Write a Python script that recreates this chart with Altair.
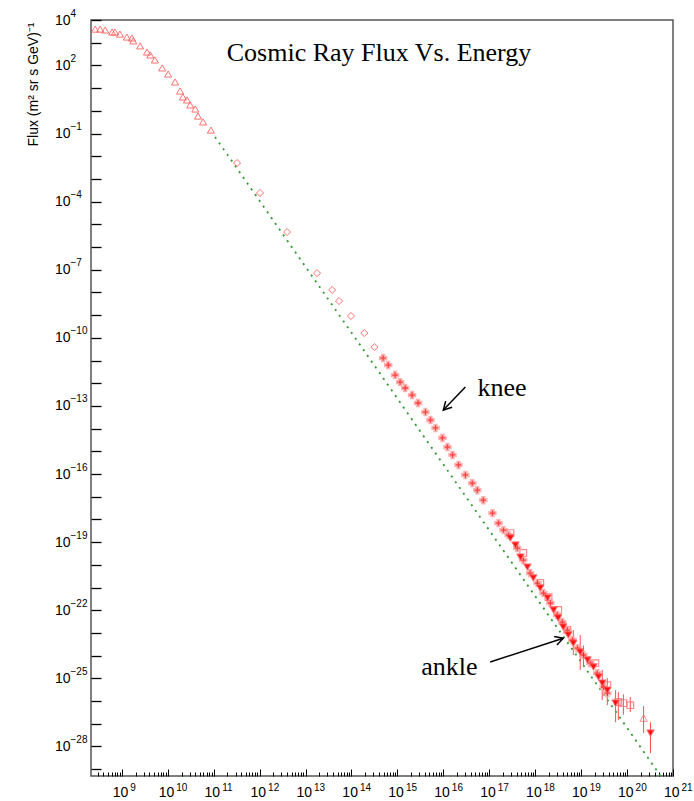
import altair as alt
import pandas as pd

# ---- values (log10 of energy in GeV, log10 of flux) ----
tri_logE = [8.42, 8.53, 8.64, 8.79, 8.85, 8.96, 9.11, 9.22, 9.25, 9.40, 9.55, 9.62,
            9.72, 9.88, 10.01, 10.16, 10.27, 10.33, 10.42, 10.49, 10.60, 10.66, 10.77, 10.94]
tri_logF = [3.60, 3.60, 3.56, 3.47, 3.47, 3.38, 3.25, 3.21, 3.08, 2.86, 2.59, 2.46,
            2.24, 1.89, 1.62, 1.27, 0.87, 0.61, 0.48, 0.26, 0.08, -0.23, -0.49, -0.85]

dia_logE = [11.51, 12.01, 12.60, 13.25, 13.58, 13.73, 13.99, 14.28, 14.50]
dia_logF = [-2.30, -3.62, -5.34, -7.15, -7.89, -8.38, -9.04, -9.79, -10.41]

knee_logE = [14.69, 14.80, 14.95, 15.06, 15.17, 15.32, 15.45, 15.61, 15.72, 15.83, 15.98,
             16.09, 16.20, 16.33, 16.48, 16.63, 16.74, 16.87, 17.07, 17.20, 17.31]
knee_logF = [-10.89, -11.20, -11.64, -11.95, -12.21, -12.52, -12.87, -13.27, -13.62, -13.97, -14.41,
             -14.81, -15.16, -15.60, -16.04, -16.40, -16.71, -17.15, -17.72, -18.16, -18.47]

band_logE = [17.42, 17.61, 17.74, 17.89, 18.05, 18.18, 18.33, 18.48, 18.59,
             18.70, 18.81, 18.92, 19.05, 19.20, 19.35, 19.49, 19.57]
band_logF = [-18.69, -19.26, -19.79, -20.36, -20.80, -21.24, -21.68, -22.21, -22.52,
             -22.87, -23.31, -23.67, -23.97, -24.33, -24.77, -25.38, -25.65]

hi_logE = [17.46, 17.57, 17.68, 17.83, 17.96, 18.11, 18.27, 18.40, 18.50, 18.61,
           18.72, 18.83, 18.98, 19.14, 19.27, 19.38, 19.46, 19.57, 19.75, 20.51]
hi_logF = [-18.82, -19.13, -19.66, -20.10, -20.58, -21.02, -21.46, -21.99, -22.34, -22.74,
           -23.09, -23.45, -23.84, -24.19, -24.50, -24.94, -25.21, -25.52, -26.09, -27.41]

sq_logE = [17.46, 17.74, 18.11, 18.29, 18.50, 18.70, 19.31, 19.57, 19.81, 19.92, 20.07]
sq_logF = [-18.60, -19.48, -20.80, -21.42, -21.99, -22.87, -24.33, -25.30, -26.04, -26.09, -26.18]

otri_logE = [20.36]
otri_logF = [-26.75]

err_logE = [18.83, 18.98, 19.05, 19.46, 19.57, 19.75, 19.81, 19.92, 20.07, 20.36, 20.51]
err_lo = [-23.97, -24.63, -24.50, -25.96, -26.18, -26.93, -26.84, -26.60, -26.48, -27.41, -28.29]
err_hi = [-22.87, -23.09, -23.55, -24.63, -24.99, -25.52, -25.60, -25.70, -25.82, -26.22, -26.93]

fit_logE = [11.03, 20.73]
fit_logF = [-1.15, -29.30]

# annotation anchors (log10 coordinates)
knee_txt = (17.28, -12.21)
ankle_txt = (16.13, -24.50)
knee_arrow = (16.48, -12.17, 16.00, -13.18)
ankle_arrow = (17.02, -24.28, 18.61, -23.23)

x_major = list(range(9, 22))
y_labels = [4, 2, -1, -4, -7, -10, -13, -16, -19, -22, -25, -28]
y_ticks = list(range(-29, 5))


def pts(le, lf):
    return pd.DataFrame({"E": [10 ** v for v in le], "F": [10 ** v for v in lf]})


xs = alt.Scale(type="log", domain=[10 ** 8.33, 1e21], nice=False)
ys = alt.Scale(type="log", domain=[10 ** -29.3, 1e4], nice=False)

LF = "Liberation Sans"
exp_expr = "format(round(log(datum.value)/LN10), 'd')"

axXA = alt.Axis(orient="bottom", values=[10.0 ** v for v in x_major], labelExpr="'10'",
                offset=-7, tickSize=7, tickColor="black", tickWidth=1, domain=False, grid=False,
                labelAlign="right", labelOffset=6, labelPadding=9, labelFontSize=14, labelFont=LF,
                labelColor="black", labelFlush=False, labelOverlap=False, title=None)
axXB = alt.Axis(orient="bottom", values=[10.0 ** v for v in x_major], labelExpr=exp_expr,
                ticks=False, domain=False, grid=False, labelAlign="left", labelOffset=8,
                labelPadding=6, labelFontSize=10, labelFont=LF, labelColor="black",
                labelFlush=False, labelOverlap=False, title=None)
x_minor = [k * 10.0 ** d for d in range(8, 21) for k in range(2, 10) if 10 ** 8.33 <= k * 10.0 ** d <= 1e21]
axXC = alt.Axis(orient="bottom", values=x_minor, labels=False, offset=-4, tickSize=4,
                tickColor="black", tickWidth=1, domain=False, grid=False, title=None)

axYA = alt.Axis(orient="left", values=[10.0 ** v for v in y_labels], labelExpr="'10'", ticks=False,
                domain=False, grid=False, labelAlign="right", labelBaseline="middle",
                labelPadding=21, labelFontSize=14, labelFont=LF, labelColor="black",
                labelFlush=False, labelOverlap=False,
                title="Flux (m² sr s GeV)⁻¹", titleAngle=270, titleAnchor="end",
                titleAlign="right", titleBaseline="middle", titleX=-58, titleY=2,
                titleFont=LF, titleFontSize=14, titleFontWeight="normal", titleColor="black")
axYB = alt.Axis(orient="left", values=[10.0 ** v for v in y_labels], labelExpr=exp_expr, ticks=False,
                domain=False, grid=False, labelAlign="left", labelBaseline="middle",
                labelPadding=21, labelOffset=-7, labelFontSize=10, labelFont=LF, labelColor="black",
                labelFlush=False, labelOverlap=False, title=None)
axYC = alt.Axis(orient="left", values=[10.0 ** v for v in y_ticks], labels=False, offset=-10,
                tickSize=10, tickColor="black", tickWidth=1.3, domain=False, grid=False, title=None)

fit = alt.Chart(pts(fit_logE, fit_logF)).mark_line(
    color="#2e9a2e", strokeDash=[2, 5], strokeWidth=1.8, clip=True
).encode(x=alt.X("E:Q", scale=xs, axis=axXA), y=alt.Y("F:Q", scale=ys, axis=axYA))

tri = alt.Chart(pts(tri_logE, tri_logF)).mark_point(
    shape="triangle-up", filled=False, stroke="#ff5a5a", strokeWidth=1, size=50, opacity=0.85, clip=True
).encode(x=alt.X("E:Q", scale=xs, axis=axXB), y=alt.Y("F:Q", scale=ys, axis=axYB))

dia = alt.Chart(pts(dia_logE, dia_logF)).mark_point(
    shape="diamond", filled=False, stroke="#ff5a5a", strokeWidth=1, size=50, opacity=0.85, clip=True
).encode(x=alt.X("E:Q", scale=xs, axis=axXC), y=alt.Y("F:Q", scale=ys, axis=axYC))

knee = alt.Chart(pts(knee_logE, knee_logF)).mark_point(
    shape="cross", filled=True, fill="#ff1010", stroke="#ffa0a0", strokeWidth=1.5, size=48, opacity=0.8, clip=True
).encode(x=alt.X("E:Q", scale=xs, axis=None), y=alt.Y("F:Q", scale=ys, axis=None))

errdf = pd.DataFrame({"E": [10 ** v for v in err_logE],
                      "lo": [10 ** v for v in err_lo], "hi": [10 ** v for v in err_hi]})
err = alt.Chart(errdf).mark_rule(color="#ff5050", strokeWidth=1, clip=True).encode(
    x=alt.X("E:Q", scale=xs, axis=None), y=alt.Y("lo:Q", scale=ys, axis=None), y2="hi:Q")

band = alt.Chart(pts(band_logE, band_logF)).mark_point(
    shape="cross", filled=True, fill="#ff1010", stroke="#ffa0a0", strokeWidth=1.5, size=48, opacity=0.8, clip=True
).encode(x=alt.X("E:Q", scale=xs, axis=None), y=alt.Y("F:Q", scale=ys, axis=None))

sq = alt.Chart(pts(sq_logE, sq_logF)).mark_point(
    shape="square", filled=False, stroke="#ff7070", strokeWidth=1.2, size=45, opacity=0.8, clip=True
).encode(x=alt.X("E:Q", scale=xs, axis=None), y=alt.Y("F:Q", scale=ys, axis=None))

hi = alt.Chart(pts(hi_logE, hi_logF)).mark_point(
    shape="triangle-down", filled=True, fill="#ff0000", stroke="#ff6a6a", strokeWidth=1, size=55, opacity=0.9, clip=True
).encode(x=alt.X("E:Q", scale=xs, axis=None), y=alt.Y("F:Q", scale=ys, axis=None))

otri = alt.Chart(pts(otri_logE, otri_logF)).mark_point(
    shape="triangle-up", filled=False, stroke="#ff5a5a", strokeWidth=1, size=55, clip=True
).encode(x=alt.X("E:Q", scale=xs, axis=None), y=alt.Y("F:Q", scale=ys, axis=None))

# annotations
txt_df = pd.DataFrame({"E": [10 ** knee_txt[0], 10 ** ankle_txt[0]],
                       "F": [10 ** knee_txt[1], 10 ** ankle_txt[1]],
                       "t": ["knee", "ankle"]})
labels = alt.Chart(txt_df).mark_text(font="Liberation Serif", fontSize=26, color="black",
                                     align="center", baseline="middle").encode(
    x=alt.X("E:Q", scale=xs, axis=None), y=alt.Y("F:Q", scale=ys, axis=None), text="t:N")

arr_df = pd.DataFrame({"E": [10 ** knee_arrow[0], 10 ** ankle_arrow[0]],
                       "F": [10 ** knee_arrow[1], 10 ** ankle_arrow[1]],
                       "E2": [10 ** knee_arrow[2], 10 ** ankle_arrow[2]],
                       "F2": [10 ** knee_arrow[3], 10 ** ankle_arrow[3]],
                       "ang": [133.7, 341.8]})
shafts = alt.Chart(arr_df).mark_rule(color="black", strokeWidth=1.5).encode(
    x=alt.X("E:Q", scale=xs, axis=None), y=alt.Y("F:Q", scale=ys, axis=None),
    x2="E2:Q", y2="F2:Q")
heads = alt.Chart(arr_df).mark_point(
    shape="M-1,-0.55L0,0L-1,0.55", filled=False, stroke="black", strokeWidth=1.5, size=260, opacity=1
).encode(x=alt.X("E2:Q", scale=xs, axis=None), y=alt.Y("F2:Q", scale=ys, axis=None),
         angle=alt.Angle("ang:Q", scale=None))

title = alt.Chart(pd.DataFrame({"t": ["Cosmic Ray Flux Vs. Energy"]})).mark_text(
    font="Liberation Serif", fontSize=26, color="black", align="center", baseline="middle"
).encode(x=alt.value(288), y=alt.value(33), text="t:N")

chart = alt.layer(fit, tri, dia, knee, err, sq, band, hi, otri, labels, shafts, heads, title).resolve_axis(
    x="independent", y="independent"
).properties(
    width=582, height=756,
    autosize=alt.AutoSizeParams(type="none"),
    padding={"left": 91, "top": 20, "right": 21, "bottom": 25},
    background="white",
).configure_view(stroke="#555555", strokeWidth=1.5)

chart.save("out.html", embed_options={"renderer": "svg", "actions": False})
